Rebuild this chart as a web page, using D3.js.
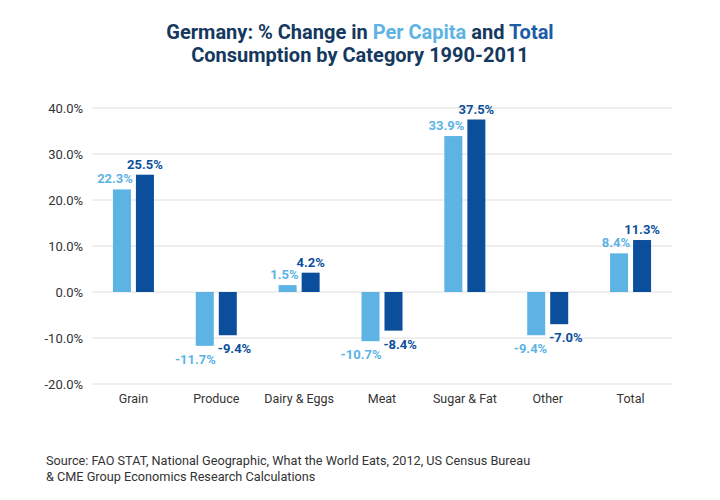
<!DOCTYPE html>
<html>
<head>
<meta charset="utf-8">
<script src="https://cdn.jsdelivr.net/npm/d3@7"></script>
<style>
	body { margin: 0; background: #fff; }
	text { font-family: Roboto, 'Open Sans', sans-serif; }
</style>
</head>
<body>
<div id="chart"></div>
<script>
const categories = ['Grain', 'Produce', 'Dairy & Eggs', 'Meat', 'Sugar & Fat', 'Other', 'Total']
const perCapita = [22.3, -11.7, 1.5, -10.7, 33.9, -9.4, 8.4]
const total = [25.5, -9.4, 4.2, -8.4, 37.5, -7.0, 11.3]
const yTicks = [-20, -10, 0, 10, 20, 30, 40]

const lightBlue = '#5cb3e4'
const darkBlue = '#0b4f9c'
const navy = '#14385e'

const width = 720
const height = 500
const svg = d3.select('#chart').append('svg').attr('width', width).attr('height', height)

// Title, two lines
const t1 = svg.append('text').attr('x', 360).attr('y', 39).attr('text-anchor', 'middle')
	.attr('font-size', '20px').attr('font-weight', 'bold').attr('fill', navy)
t1.append('tspan').text('Germany: % Change in ')
t1.append('tspan').text('Per Capita').attr('fill', lightBlue)
t1.append('tspan').text(' and ')
t1.append('tspan').text('Total').attr('fill', '#1a5ca6')
svg.append('text').attr('x', 360).attr('y', 62).attr('text-anchor', 'middle')
	.attr('font-size', '20px').attr('font-weight', 'bold').attr('fill', navy)
	.text('Consumption by Category 1990-2011')

// Scales
const x = d3.scaleBand().domain(categories).range([92, 672])
const y = d3.scaleLinear().domain([-20, 40]).range([384, 108])
const barW = 18
const gap = 5

// Grid lines
svg.append('g')
	.selectAll('line')
	.data(yTicks)
	.enter()
	.append('line')
	.attr('x1', 92)
	.attr('x2', 672)
	.attr('y1', (d) => y(d))
	.attr('y2', (d) => y(d))
	.attr('stroke', '#dedede')
	.attr('stroke-width', 1)

// Y axis labels
const yAxis = d3.axisLeft(y).tickValues(yTicks).tickFormat((d) => d.toFixed(1) + '%').tickSize(0).tickPadding(9)
const yg = svg.append('g').attr('transform', 'translate(92,0)').call(yAxis)
yg.select('.domain').remove()
yg.selectAll('text').attr('font-size', '13px').attr('fill', '#333').attr('font-family', 'Roboto, sans-serif')

// X axis labels
const xAxis = d3.axisBottom(x).tickSize(0).tickPadding(0)
const xg = svg.append('g').attr('transform', 'translate(0,394)').call(xAxis)
xg.select('.domain').remove()
xg.selectAll('text').attr('font-size', '12.5px').attr('fill', '#333').attr('font-family', 'Roboto, sans-serif')

const lightX = (d, i) => x(categories[i]) + x.bandwidth() / 2 - gap / 2 - barW
const darkX = (d, i) => x(categories[i]) + x.bandwidth() / 2 + gap / 2

// Bars
svg.append('g')
	.selectAll('rect')
	.data(perCapita)
	.enter()
	.append('rect')
	.attr('x', lightX)
	.attr('y', (d) => y(Math.max(0, d)))
	.attr('width', barW)
	.attr('height', (d) => Math.abs(y(d) - y(0)))
	.attr('fill', lightBlue)

svg.append('g')
	.selectAll('rect')
	.data(total)
	.enter()
	.append('rect')
	.attr('x', darkX)
	.attr('y', (d) => y(Math.max(0, d)))
	.attr('width', barW)
	.attr('height', (d) => Math.abs(y(d) - y(0)))
	.attr('fill', darkBlue)

// Value labels
svg.append('g')
	.selectAll('text')
	.data(perCapita)
	.enter()
	.append('text')
	.attr('x', (d, i) => lightX(d, i) + barW + 2)
	.attr('y', (d) => (d >= 0 ? y(d) - 6 : y(d) + 18))
	.attr('text-anchor', 'end')
	.attr('font-size', '13px')
	.attr('font-weight', 'bold')
	.attr('fill', lightBlue)
	.text((d) => d.toFixed(1) + '%')

svg.append('g')
	.selectAll('text')
	.data(total)
	.enter()
	.append('text')
	.attr('x', (d, i) => (d >= 0 ? darkX(d, i) + barW / 2 : darkX(d, i) - 1))
	.attr('y', (d) => (d >= 0 ? y(d) - 6 : y(d) + 18))
	.attr('text-anchor', (d) => (d >= 0 ? 'middle' : 'start'))
	.attr('font-size', '13px')
	.attr('font-weight', 'bold')
	.attr('fill', darkBlue)
	.text((d) => d.toFixed(1) + '%')

// Source
const src = svg.append('text').attr('font-size', '12.7px').attr('fill', '#333')
src.append('tspan').attr('x', 46).attr('y', 465).text('Source: FAO STAT, National Geographic, What the World Eats, 2012, US Census Bureau')
src.append('tspan').attr('x', 46).attr('y', 481).text('& CME Group Economics Research Calculations')
</script>
</body>
</html>
